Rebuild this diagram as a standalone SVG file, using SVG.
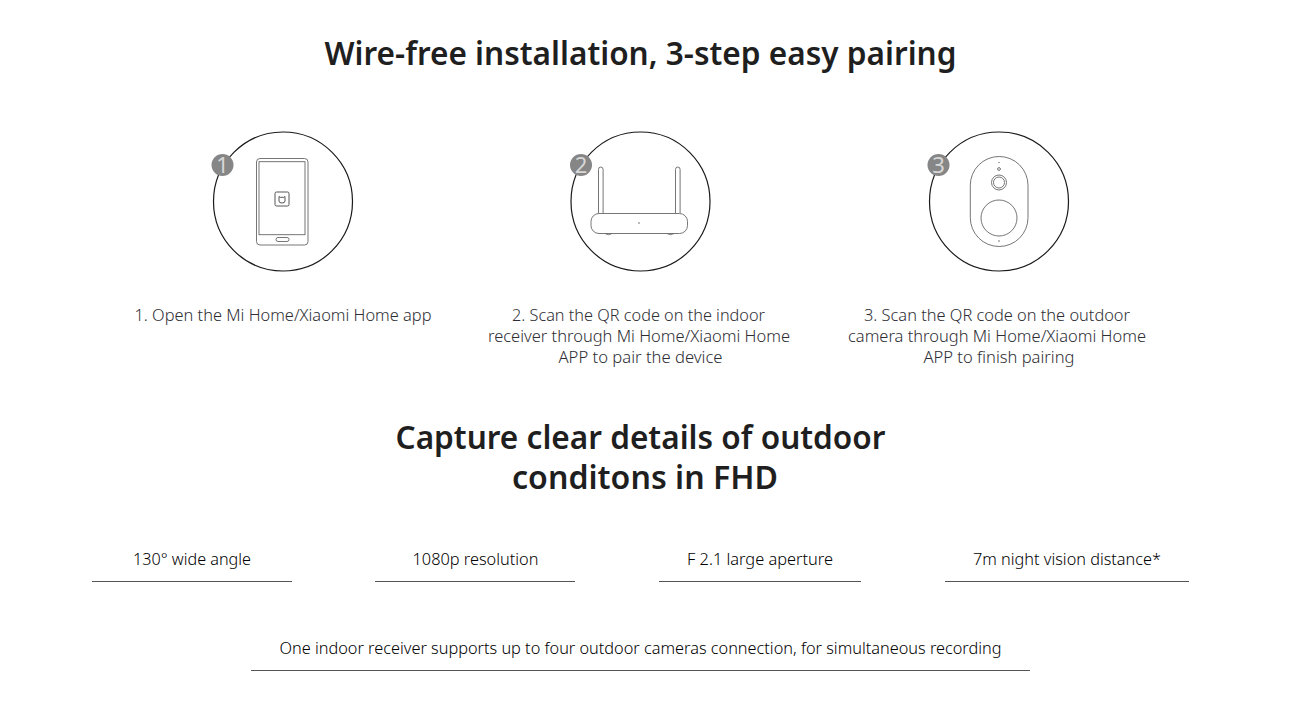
<svg xmlns="http://www.w3.org/2000/svg" width="1290" height="717" viewBox="0 0 1290 717">
<style>
text{font-family:"Noto Sans","Open Sans","Liberation Sans",sans-serif;text-anchor:middle}
.h{font-size:32px;font-weight:600;fill:#1f1f1f}
.s{font-size:16px;font-weight:300;fill:#2e2e34}
.f{font-size:16px;font-weight:300;fill:#000}
.c{fill:#fff;stroke:#1a1a1a;stroke-width:1.2}
.b{fill:#868686}
.n{font-size:22px;fill:#d8d8d8;font-weight:400}
.i{fill:#fff;stroke:#666;stroke-width:.9}
.r{stroke:#666;stroke-width:.9;fill:none}
</style>
<rect width="1290" height="717" fill="#fff"/>
<text id="title1" class="h" x="640.500" y="65" textLength="632" lengthAdjust="spacingAndGlyphs">Wire-free installation, 3-step easy pairing</text>
<g id="step1">
<circle class="c" cx="283" cy="201.500" r="69.500"/>
<circle class="b" cx="222.500" cy="165" r="11"/>
<text class="n" x="222.500" y="172.500">1</text>
<rect class="i" x="256.500" y="158.500" width="51.500" height="86.500" rx="3.500"/>
<rect class="i" x="259" y="161.700" width="46" height="73"/>
<rect class="i" x="276" y="237.500" width="13" height="4" rx="2"/>
<rect x="275" y="192" width="14" height="14" rx="1.500" fill="#fff" stroke="#444" stroke-width=".9"/>
<path d="M279 196.500l1.200 .8h3.600l1.200-.8v4.500q0 2-3 2t-3-2z" fill="none" stroke="#444" stroke-width=".9"/>
<text class="s" x="283" y="321" textLength="297" lengthAdjust="spacingAndGlyphs">1. Open the Mi Home/Xiaomi Home app</text>
</g>
<g id="step2">
<circle class="c" cx="640.500" cy="201.500" r="69.500"/>
<circle class="b" cx="581" cy="165" r="11"/>
<text class="n" x="581" y="172.500">2</text>
<path class="r" d="M598.500 213v-43.500q0-2.500 2.300-2.500t2.300 2.500v43.500M675.500 213v-43.500q0-2.500 2.300-2.500t2.300 2.500v43.500"/>
<rect class="i" x="591" y="213.500" width="96.500" height="20" rx="8"/>
<path class="r" d="M605 233.500q3.500 2.500 7 0M667 233.500q3.500 2.500 7 0"/>
<circle cx="639" cy="223" r=".7" fill="#444"/>
<text class="s"><tspan x="638.500" y="321" textLength="253" lengthAdjust="spacingAndGlyphs">2. Scan the QR code on the indoor</tspan><tspan x="639" y="342" textLength="302" lengthAdjust="spacingAndGlyphs">receiver through Mi Home/Xiaomi Home</tspan><tspan x="640.500" y="363" textLength="164" lengthAdjust="spacingAndGlyphs">APP to pair the device</tspan></text>
</g>
<g id="step3">
<circle class="c" cx="999" cy="201.500" r="69.500"/>
<circle class="b" cx="938.500" cy="165" r="11"/>
<text class="n" x="938.500" y="172.500">3</text>
<rect class="i" x="970.300" y="156.500" width="57.700" height="90" rx="28.800"/>
<circle class="r" cx="999" cy="182.500" r="7.500"/>
<circle class="r" cx="999" cy="182.500" r="5.500"/>
<circle class="r" cx="999" cy="169" r="1.400"/>
<circle cx="999" cy="162.500" r=".6" fill="#444"/>
<circle class="r" cx="999" cy="218" r="18"/>
<circle cx="999" cy="241" r=".7" fill="#444"/>
<text class="s"><tspan x="997" y="321" textLength="266" lengthAdjust="spacingAndGlyphs">3. Scan the QR code on the outdoor</tspan><tspan x="997" y="342" textLength="298" lengthAdjust="spacingAndGlyphs">camera through Mi Home/Xiaomi Home</tspan><tspan x="999" y="363" textLength="151" lengthAdjust="spacingAndGlyphs">APP to finish pairing</tspan></text>
</g>
<text id="title2" class="h"><tspan x="640.500" y="449" textLength="490" lengthAdjust="spacingAndGlyphs">Capture clear details of outdoor</tspan><tspan x="645" y="489" textLength="266" lengthAdjust="spacingAndGlyphs">conditons in FHD</tspan></text>
<g id="spec1"><text class="f" x="192" y="565" textLength="118" lengthAdjust="spacingAndGlyphs">130° wide angle</text></g>
<g id="spec2"><text class="f" x="475.500" y="565" textLength="126" lengthAdjust="spacingAndGlyphs">1080p resolution</text></g>
<g id="spec3"><text class="f" x="760" y="565" textLength="146" lengthAdjust="spacingAndGlyphs">F 2.1 large aperture</text></g>
<g id="spec4"><text class="f" x="1067" y="565" textLength="188" lengthAdjust="spacingAndGlyphs">7m night vision distance*</text></g>
<g id="note"><text class="f" x="640.500" y="654" textLength="722" lengthAdjust="spacingAndGlyphs">One indoor receiver supports up to four outdoor cameras connection, for simultaneous recording</text></g>
<g id="rules" stroke="#555" stroke-width="1">
<path d="M92 581.500H292M375 581.500H575M659 581.500H861M945 581.500H1189M251 670.500H1030"/>
</g>
</svg>
